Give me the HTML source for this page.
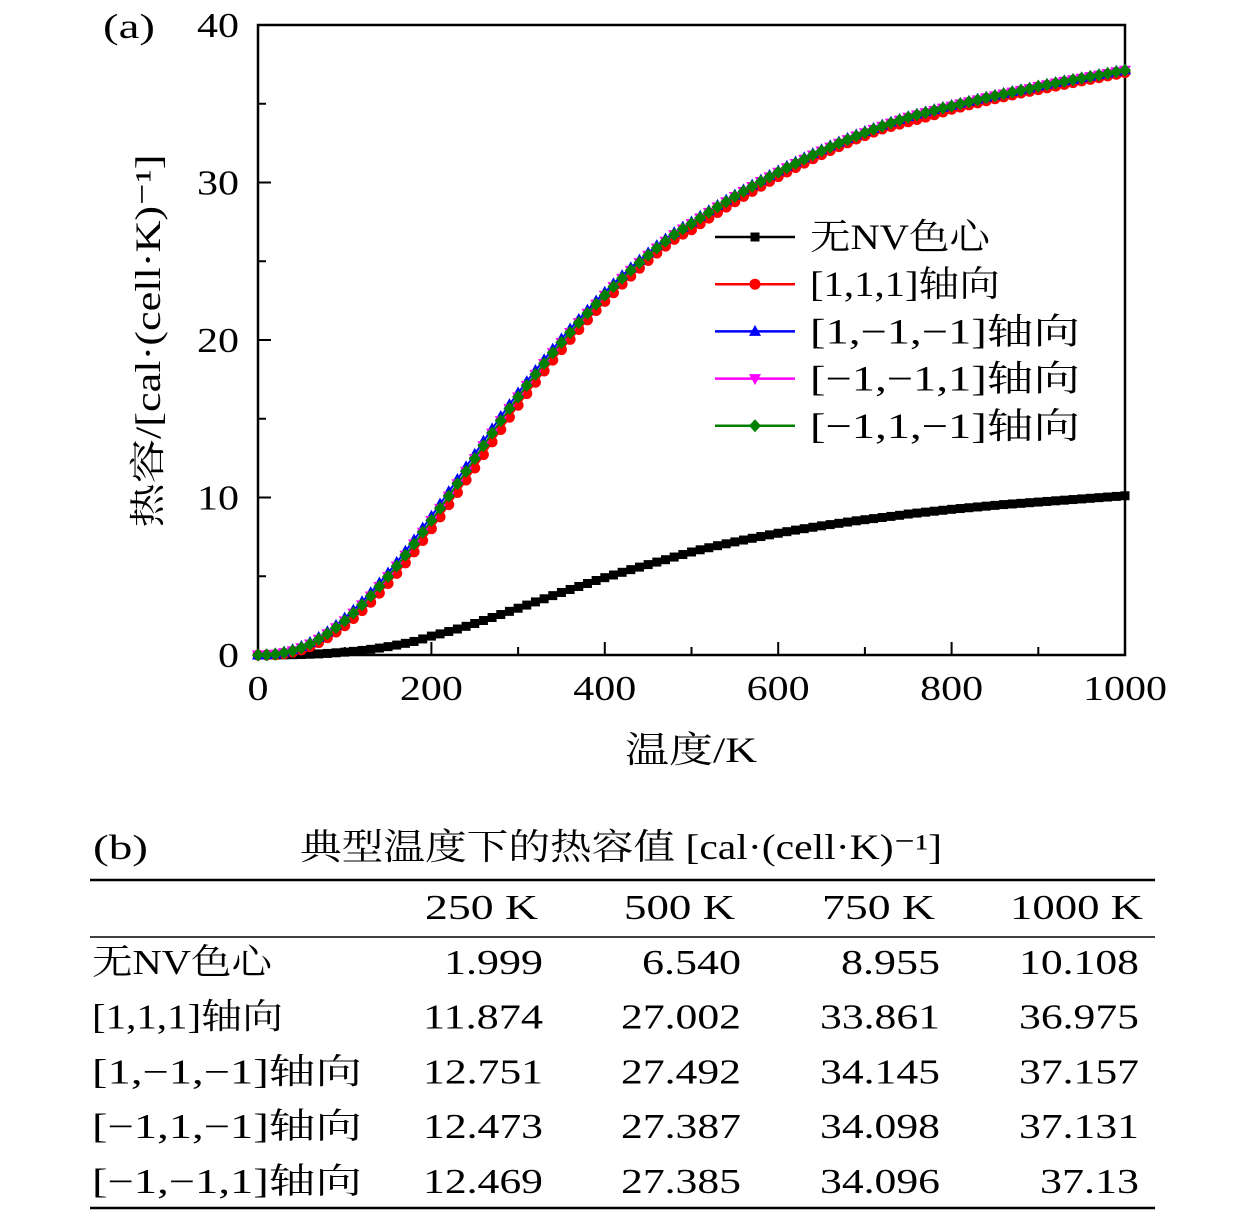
<!DOCTYPE html>
<html><head><meta charset="utf-8">
<style>
html,body{margin:0;padding:0;background:#fff;}
svg{display:block;}
text{font-family:"Liberation Serif","Noto Serif CJK SC",serif;fill:#000;}
</style></head>
<body>
<svg id="chart" width="1260" height="1213" viewBox="0 0 1260 1213" xmlns="http://www.w3.org/2000/svg">
<g id="plot"></g>
<g id="table"></g>
</svg>
<script>
const temps = [];
for (let t = 0; t <= 1000; t += 10) temps.push(t);
const xTicks = [0,200,400,600,800,1000];
const yTicks = [0,10,20,30,40];
const seriesNames = ["无NV色心","[1,1,1]轴向","[1,−1,−1]轴向","[−1,−1,1]轴向","[−1,1,−1]轴向"];
const blackVals = [0,0,0,0.01,0.02,0.03,0.05,0.07,0.1,0.14,
0.18,0.23,0.29,0.36,0.44,0.53,0.63,0.74,0.86,1.02,
1.2,1.34,1.49,1.65,1.82,2.0,2.19,2.38,2.57,2.77,
2.97,3.17,3.37,3.57,3.77,3.97,4.16,4.35,4.54,4.73,
4.91,5.08,5.25,5.42,5.58,5.74,5.9,6.05,6.22,6.38,
6.54,6.68,6.81,6.94,7.06,7.18,7.3,7.41,7.52,7.63,
7.73,7.83,7.93,8.02,8.11,8.2,8.28,8.36,8.44,8.52,
8.59,8.66,8.73,8.8,8.87,8.95,9.01,9.07,9.13,9.19,
9.25,9.3,9.35,9.4,9.45,9.5,9.55,9.59,9.63,9.67,
9.71,9.75,9.79,9.83,9.87,9.91,9.95,9.99,10.03,10.07,10.11];
const redVals = [0,0,0.02,0.08,0.18,0.33,0.53,0.79,1.1,1.46,
1.86,2.32,2.82,3.35,3.93,4.54,5.18,5.85,6.55,7.27,
8.02,8.77,9.55,10.32,11.11,11.87,12.72,13.53,14.32,15.1,
15.86,16.6,17.32,18.03,18.72,19.39,20.04,20.67,21.28,21.87,
22.45,23.0,23.55,24.06,24.56,25.05,25.52,25.96,26.39,26.72,
27.0,27.38,27.74,28.1,28.44,28.78,29.12,29.44,29.76,30.07,
30.37,30.67,30.95,31.23,31.51,31.77,32.03,32.28,32.52,32.76,
32.98,33.2,33.4,33.56,33.71,33.86,34.0,34.15,34.3,34.48,
34.65,34.79,34.93,35.06,35.19,35.32,35.44,35.56,35.68,35.79,
35.9,36.01,36.12,36.23,36.34,36.45,36.55,36.66,36.77,36.87,36.98];
const blueVals = [0,0.02,0.08,0.19,0.34,0.55,0.8,1.12,1.48,1.88,
2.34,2.84,3.38,3.96,4.57,5.21,5.88,6.59,7.31,8.06,
8.81,9.59,10.37,11.15,11.95,12.75,13.57,14.36,15.14,15.9,
16.64,17.36,18.06,18.75,19.42,20.07,20.7,21.31,21.9,22.48,
23.03,23.57,24.09,24.59,25.07,25.53,25.99,26.41,26.82,27.17,
27.49,27.86,28.21,28.55,28.88,29.21,29.53,29.84,30.15,30.45,
30.74,31.03,31.3,31.57,31.83,32.08,32.33,32.57,32.8,33.02,
33.24,33.44,33.64,33.83,34.01,34.18,34.34,34.49,34.63,34.77,
34.9,35.03,35.16,35.29,35.42,35.54,35.66,35.78,35.89,36.0,
36.13,36.24,36.35,36.45,36.55,36.65,36.75,36.85,36.95,37.06,37.16];
const magentaVals = [0,0.01,0.05,0.14,0.27,0.46,0.7,1.0,1.35,1.73,
2.17,2.66,3.18,3.75,4.35,4.98,5.64,6.34,7.05,7.79,
8.54,9.31,10.09,10.87,11.66,12.47,13.29,14.09,14.87,15.64,
16.38,17.11,17.82,18.51,19.19,19.84,20.48,21.1,21.7,22.28,
22.84,23.39,23.91,24.42,24.91,25.38,25.84,26.27,26.69,27.05,
27.39,27.75,28.1,28.45,28.78,29.11,29.44,29.75,30.06,30.36,
30.65,30.94,31.21,31.48,31.75,32.0,32.25,32.49,32.72,32.95,
33.16,33.37,33.57,33.77,33.96,34.14,34.29,34.44,34.58,34.72,
34.85,34.99,35.12,35.25,35.38,35.5,35.62,35.74,35.85,35.96,
36.1,36.21,36.32,36.42,36.52,36.62,36.72,36.82,36.92,37.03,37.13];
const greenVals = [0,0.01,0.05,0.14,0.27,0.46,0.7,1.0,1.35,1.73,
2.17,2.66,3.18,3.75,4.35,4.98,5.64,6.34,7.05,7.79,
8.54,9.31,10.09,10.87,11.66,12.47,13.29,14.09,14.87,15.64,
16.38,17.11,17.82,18.51,19.19,19.84,20.48,21.1,21.7,22.28,
22.84,23.39,23.91,24.42,24.91,25.38,25.84,26.27,26.69,27.05,
27.39,27.75,28.1,28.45,28.78,29.11,29.44,29.75,30.06,30.36,
30.65,30.94,31.21,31.48,31.75,32.0,32.25,32.49,32.72,32.95,
33.16,33.37,33.57,33.77,33.96,34.14,34.29,34.44,34.58,34.72,
34.85,34.99,35.12,35.25,35.38,35.5,35.62,35.74,35.85,35.96,
36.1,36.21,36.32,36.42,36.52,36.62,36.72,36.82,36.92,37.03,37.13];
const tableCols = ["250 K","500 K","750 K","1000 K"];
const tableRows = ["无NV色心","[1,1,1]轴向","[1,−1,−1]轴向","[−1,1,−1]轴向","[−1,−1,1]轴向"];
const tableVals = [["1.999","6.540","8.955","10.108"],
["11.874","27.002","33.861","36.975"],
["12.751","27.492","34.145","37.157"],
["12.473","27.387","34.098","37.131"],
["12.469","27.385","34.096","37.13"]];

const NS = "http://www.w3.org/2000/svg";
const X0=258,X1=1125,Y0=655,Y1=25;
const xs = v => X0 + (v/1000)*(X1-X0);
const ys = v => Y0 - (v/40)*(Y0-Y1);
function mk(tag, attrs, parent, txt){
  const e=document.createElementNS(NS,tag);
  for(const k in attrs) e.setAttribute(k,attrs[k]);
  if(txt!==undefined) e.textContent=txt;
  parent.appendChild(e); return e;
}
function fit(e,w){ e.setAttribute('textLength',w); e.setAttribute('lengthAdjust','spacingAndGlyphs'); }
function labelWidth(s){ // visual width of CM-style label text
  const cjk=(s.match(/[\u4e00-\u9fff]/g)||[]).length;
  const rest=s.length-cjk;
  return null;
}
const plot=document.getElementById('plot');
for(let v=0; v<=1000; v+=100){
  const big = v%200===0;
  const t=mk('line',{x1:xs(v),x2:xs(v),y1:Y0,y2:Y0-(big?13:8),stroke:'#000','stroke-width':2},plot);
  
  
}
for(let v=0; v<=40; v+=5){
  const big = v%10===0;
  const t=mk('line',{x1:X0,x2:X0+(big?13:8),y1:ys(v),y2:ys(v),stroke:'#000','stroke-width':2},plot);
  
  
}
xTicks.forEach(v=>{
  const s=String(v);
  const t=mk('text',{x:xs(v),y:700,'font-size':35,'text-anchor':'middle'},plot,s);
  fit(t,21*s.length);
  
  
});
yTicks.forEach(v=>{
  const s=String(v);
  const t=mk('text',{x:239,y:ys(v)+12,'font-size':35,'text-anchor':'end'},plot,s);
  fit(t,21*s.length);
  
  
});
const frame=mk('rect',{x:X0,y:Y1,width:X1-X0,height:Y0-Y1,fill:'none',stroke:'#000','stroke-width':2.5},plot);


let tt=mk('text',{x:103,y:38,'font-size':35},plot,'(a)');
fit(tt,52);
 
tt=mk('text',{x:625,y:762,'font-size':36},plot,'温度/K');
fit(tt,132);
 
tt=mk('text',{x:0,y:0,'font-size':36,'text-anchor':'middle',transform:'translate(160,341) rotate(-90)'},plot,'热容/[cal·(cell·K)⁻¹]');
fit(tt,373);
 

function marker(g,type,x,y,color){
  let e;
  if(type==='square') e=mk('rect',{x:x-4.5,y:y-4.5,width:9,height:9,fill:color},g);
  else if(type==='circle') e=mk('circle',{cx:x,cy:y,r:5.5,fill:color},g);
  else if(type==='tri') e=mk('polygon',{points:`${x},${y-6.5} ${x+6},${y+4.5} ${x-6},${y+4.5}`,fill:color},g);
  else if(type==='itri') e=mk('polygon',{points:`${x},${y+6.5} ${x+6},${y-4.5} ${x-6},${y-4.5}`,fill:color},g);
  else e=mk('polygon',{points:`${x},${y-6.5} ${x+6},${y} ${x},${y+6.5} ${x-6},${y}`,fill:color},g);
  return e;
}
const series=[
  {vals:blackVals,color:'#000',m:'square',key:'no-nv'},
  {vals:redVals,color:'#ff0000',m:'circle',key:'111'},
  {vals:blueVals,color:'#0000ff',m:'tri',key:'1-1-1'},
  {vals:magentaVals,color:'#ff00ff',m:'itri',key:'-1-11'},
  {vals:greenVals,color:'#008000',m:'diamond',key:'-11-1'}];
series.forEach(s=>{
  const g=mk('g',{},plot);
  
  
  const pts=s.vals.map((v,i)=>`${xs(temps[i])},${ys(v)}`).join(' ');
  mk('polyline',{points:pts,fill:'none',stroke:s.color,'stroke-width':2},g);
  s.vals.forEach((v,i)=>{
    const e=marker(g,s.m,xs(temps[i]),ys(v),s.color);
    
    
  });
});
const legendW=[180,190,270,270,270];
const lg=mk('g',{},plot);


series.forEach((s,i)=>{
  const y=237+i*47.2;
  const ge=mk('g',{},lg);
  
  
  mk('line',{x1:715,x2:795,y1:y,y2:y,stroke:s.color,'stroke-width':2.5},ge);
  marker(ge,s.m,755,y,s.color);
  const t=mk('text',{x:810,y:y+12,'font-size':36},ge,seriesNames[i]);
  fit(t,legendW[i]);
});
const tb=document.getElementById('table');
tt=mk('text',{x:93,y:859,'font-size':35},tb,'(b)');
fit(tt,55);
 
tt=mk('text',{x:300,y:859,'font-size':36},tb,'典型温度下的热容值 [cal·(cell·K)⁻¹]');
fit(tt,642);
 
[[880,2.5],[937,1.5],[1208,2.5]].forEach(([y,w])=>{
  const l=mk('line',{x1:90,x2:1155,y1:y,y2:y,stroke:'#000','stroke-width':w},tb);
   
});
const colX=[543,741,940,1139];
const hdrX=[538,735,935,1143];
const hdrW=[113,111,113,133];
tableCols.forEach((c,i)=>{
  const t=mk('text',{x:hdrX[i],y:919,'font-size':35,'text-anchor':'end'},tb,c);
  fit(t,hdrW[i]);
   
});
const rowW=[180,191,270,270,270];
tableRows.forEach((r,ri)=>{
  const y=974+ri*54.7;
  const t=mk('text',{x:92,y:y,'font-size':35},tb,r);
  fit(t,rowW[ri]);
   
  tableVals[ri].forEach((v,ci)=>{
    const c=mk('text',{x:colX[ci],y:y,'font-size':35,'text-anchor':'end'},tb,v);
    fit(c,21*(v.length-1)+15);
     
  });
});
</script>
</body></html>
